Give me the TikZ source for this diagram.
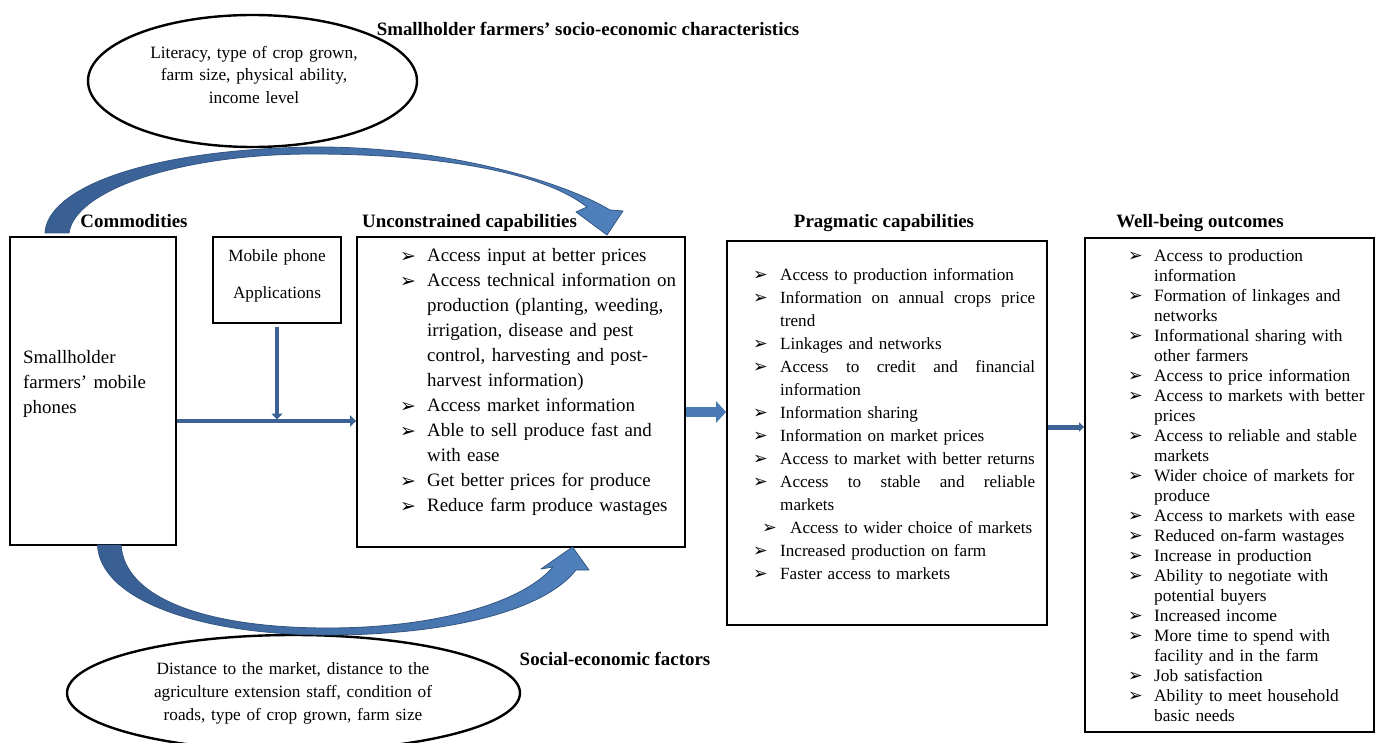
\documentclass[tikz,border=0pt]{standalone}
\usepackage{fontspec}
\setmainfont{Liberation Serif}
\newfontfamily\dejavu{DejaVu Sans}
\usetikzlibrary{arrows.meta,shapes.geometric,calc}

\definecolor{arrowblue}{RGB}{60,98,150}
\definecolor{bandlight}{RGB}{79,129,189}
\definecolor{banddark}{RGB}{56,94,146}
\definecolor{bandedge}{RGB}{52,86,130}
\definecolor{blockblue}{RGB}{74,122,181}

\newcommand\bulU{\raisebox{-0.5pt}{\dejavu\bfseries\fontsize{19}{19}\selectfont ➢}}
\newcommand\bulS{\raisebox{-0.5pt}{\dejavu\bfseries\fontsize{17.5}{17.5}\selectfont ➢}}
\newcommand\BU{\makebox[27pt][l]{\bulU}}
\newcommand\CU{\hspace*{27pt}}
\newcommand\BP{\makebox[27pt][l]{\bulS}}
\newcommand\CP{\hspace*{27pt}}
\newcommand\JP[1]{\makebox[255pt][s]{\spaceskip=0pt\xspaceskip=0pt\relax #1}}
\newcommand\BW{\makebox[26pt][l]{\bulS}}
\newcommand\CW{\hspace*{26pt}}

\tikzset{
  box/.style={draw=black, line width=1.8pt, inner sep=0pt},
  ovalbox/.style={draw=black, line width=2.4pt, ellipse, inner sep=0pt},
  head/.style={font=\bfseries\fontsize{18.9}{22}\selectfont, inner sep=0pt, anchor=base},
  listU/.style={anchor=north west, inner sep=0pt, text width=300pt, align=left, font=\fontsize{18.9}{25}\selectfont},
  listP/.style={anchor=north west, inner sep=0pt, text width=300pt, align=left, font=\fontsize{17.1}{23}\selectfont},
  listW/.style={anchor=north west, inner sep=0pt, text width=260pt, align=left, font=\fontsize{17.3}{20}\selectfont},
  plain/.style={inner sep=0pt},
  link/.style={draw=arrowblue, line width=4.5pt, -{Triangle[width=11pt,length=6pt]}},
  band/.style={left color=banddark, right color=bandlight, draw=bandedge, line width=0.8pt, line join=round},
}

\begin{document}
\begin{tikzpicture}[x=1pt, y=-1pt]
\fill[white] (0,0) rectangle (1382,743);
\useasboundingbox (0,0) rectangle (1382,743);

% headings
\node[head] (hsoc) at (588,36) {Smallholder farmers’ socio-economic characteristics};
\node[head] (hcom) at (134,228) {Commodities};
\node[head] (hunc) at (469.5,228) {Unconstrained capabilities};
\node[head] (hprag) at (884,228) {Pragmatic capabilities};
\node[head] (hwell) at (1200,228) {Well-being outcomes};
\node[head] (hfac) at (615,665) {Social-economic factors};

% ellipses
\node[ovalbox, minimum width=329pt, minimum height=132pt] (socio) at (252.5,81) {};
\node[plain, anchor=north, align=center, text width=300pt, font=\fontsize{17.3}{22.5}\selectfont] (sociotxt) at (254,42.5)
  {\strut Literacy, type of crop grown,\\ farm size, physical ability,\\ income level};
\node[ovalbox, minimum width=453pt, minimum height=116pt] (factors) at (293.5,693) {};
\node[plain, anchor=north, align=center, text width=400pt, font=\fontsize{17.25}{23}\selectfont] (factorstxt) at (293,658)
  {\strut Distance to the market, distance to the\\ agriculture extension staff, condition of\\ roads, type of crop grown, farm size};

% boxes
\node[box, minimum width=166pt, minimum height=308pt] (comm) at (93,391) {};
\node[plain, anchor=north west, text width=140pt, align=left, font=\fontsize{18.9}{25}\selectfont] (commtxt) at (23,346.2)
  {\strut Smallholder\\ farmers’ mobile\\ phones};
\node[box, minimum width=128pt, minimum height=86pt] (mob) at (277,280) {};
\node[plain, anchor=north, align=center, text width=120pt, font=\fontsize{17.2}{37}\selectfont] (mobtxt) at (277,235.3)
  {\strut Mobile phone\\ Applications};
\node[box, minimum width=328pt, minimum height=310pt] (unc) at (521,392) {};
\node[listU] (unctxt) at (400,244.2) {\strut\BU Access input at better prices\\
\BU Access technical information on\\
\CU production (planting, weeding,\\
\CU irrigation, disease and pest\\
\CU control, harvesting and post-\\
\CU harvest information)\\
\BU Access market information\\
\BU Able to sell produce fast and\\
\CU with ease\\
\BU Get better prices for produce\\
\BU Reduce farm produce wastages};

\node[box, minimum width=320pt, minimum height=384pt] (prag) at (887,433) {};
\node[listP] (pragtxt) at (753,264) {\strut\BP Access to production information\\
\BP \JP{Information on annual crops price}\\
\CP trend\\
\BP Linkages and networks\\
\BP \JP{Access to credit and financial}\\
\CP information\\
\BP Information sharing\\
\BP Information on market prices\\
\BP Access to market with better returns\\
\BP \JP{Access to stable and reliable}\\
\CP markets\\
\hspace*{9pt}\makebox[28pt][l]{\bulS}Access to wider choice of markets\\
\BP Increased production on farm\\
\BP Faster access to markets};

\node[box, minimum width=289pt, minimum height=494pt] (well) at (1229.5,485) {};
\node[listW] (welltxt) at (1128,247.2) {\strut\BW Access to production\\
\CW information\\
\BW Formation of linkages and\\
\CW networks\\
\BW Informational sharing with\\
\CW other farmers\\
\BW Access to price information\\
\BW Access to markets with better\\
\CW prices\\
\BW Access to reliable and stable\\
\CW markets\\
\BW Wider choice of markets for\\
\CW produce\\
\BW Access to markets with ease\\
\BW Reduced on-farm wastages\\
\BW Increase in production\\
\BW Ability to negotiate with\\
\CW potential buyers\\
\BW Increased income\\
\BW More time to spend with\\
\CW facility and in the farm\\
\BW Job satisfaction\\
\BW Ability to meet household\\
\CW basic needs};

% straight connectors
\coordinate (jn) at (277,421);
\draw[link] (comm.east |- jn) -- (unc.west |- jn);
\draw[link, line width=4pt, shorten >=1.5pt] ([yshift=-3pt]mob.south) -- (jn);
\coordinate (ba) at (706,412);
\draw[draw=blockblue, line width=10pt, -{Triangle[width=21pt,length=10pt]}] (unc.east |- ba) -- (prag.west |- ba);
\coordinate (bw) at (1066,427);
\draw[draw=arrowblue, line width=5pt, -{Triangle[width=9pt,length=5pt]}] (prag.east |- bw) -- (well.west |- bw);

% curved block arrow (top)
\path[band] (45,233) .. controls (47,190) and (140,150) .. (312,147)
  .. controls (440,146) and (560,180) .. (610,210)
  -- (623,211) -- (607,235) -- (576,212) -- (587,207)
  .. controls (540,170) and (430,154) .. (312,154)
  .. controls (180,154) and (75,190) .. (69,233) -- cycle;

% curved block arrow (bottom)
\path[band] (97.5,545) .. controls (100,600) and (200,635) .. (328,635)
  .. controls (450,635) and (545,610) .. (576,570)
  -- (589,570) -- (572.5,547) -- (541,569) -- (553,567)
  .. controls (520,605) and (430,628) .. (328,628)
  .. controls (210,628) and (125,600) .. (121,545) -- cycle;
\end{tikzpicture}
\end{document}
